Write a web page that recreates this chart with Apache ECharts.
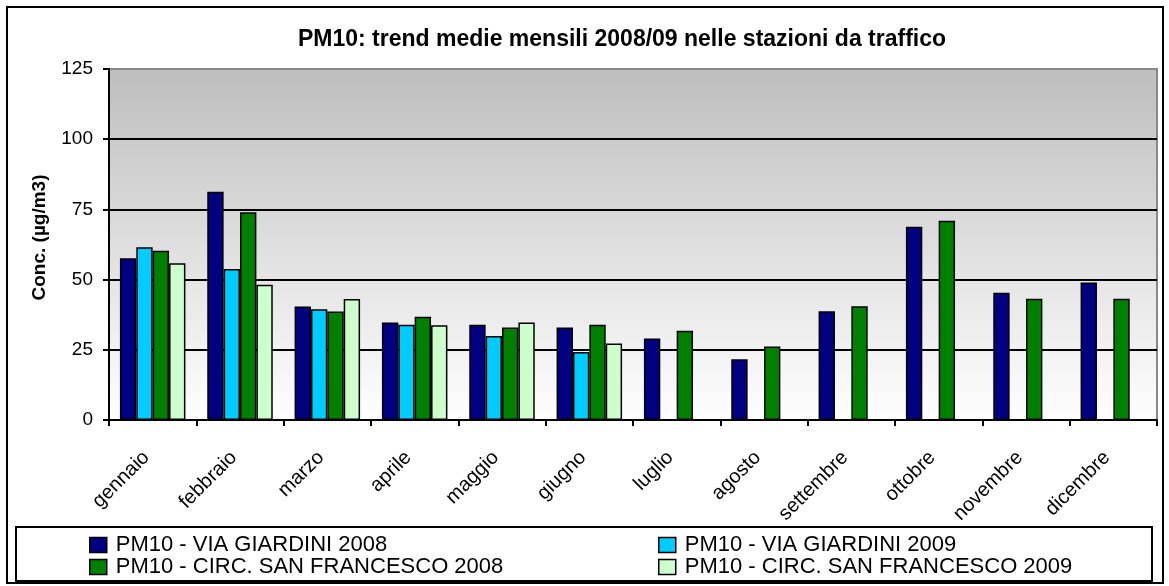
<!DOCTYPE html>
<html>
<head>
<meta charset="utf-8">
<title>PM10 trend medie mensili</title>
<script src="https://cdn.jsdelivr.net/npm/echarts@6/dist/echarts.min.js"></script>
<style>
  html, body { margin: 0; padding: 0; background: #fff; }
  #chart { width: 1169px; height: 586px; }
</style>
</head>
<body>
<div id="chart"></div>
<script>
// mesi
var months = ['gennaio', 'febbraio', 'marzo', 'aprile', 'maggio', 'giugno',
  'luglio', 'agosto', 'settembre', 'ottobre', 'novembre', 'dicembre'];
// medie mensili PM10 (µg/m3)
var viaGiardini2008 = [57.6, 81.3, 40.4, 34.7, 33.9, 32.9, 29.0, 21.6, 38.7, 68.8, 45.3, 49.0];
var viaGiardini2009 = [61.5, 53.8, 39.4, 33.9, 29.9, 24.2, null, null, null, null, null, null];
var circSanFrancesco2008 = [60.3, 74.0, 38.6, 36.8, 32.9, 33.9, 31.8, 26.2, 40.5, 71.0, 43.2, 43.2];
var circSanFrancesco2009 = [55.8, 48.2, 43.1, 33.7, 34.7, 27.2, null, null, null, null, null, null];

var seriesNames = ['PM10 - VIA GIARDINI 2008', 'PM10 - VIA GIARDINI 2009',
  'PM10 - CIRC. SAN FRANCESCO 2008', 'PM10 - CIRC. SAN FRANCESCO 2009'];
var seriesColors = ['#000080', '#00ccff', '#008000', '#ccffcc'];
var yTicks = [0, 25, 50, 75, 100, 125];

var font = 'Liberation Sans, Arial, sans-serif';

function bar(i, data) {
  return {
    name: seriesNames[i],
    type: 'bar',
    data: data,
    barGap: '0%',
    barCategoryGap: '25%',
    itemStyle: { color: seriesColors[i], borderColor: '#000', borderWidth: 1.5 }
  };
}

function legendCol(names, left) {
  return {
    data: names,
    orient: 'vertical',
    left: left,
    top: 534,
    padding: 0,
    itemGap: 0,
    itemWidth: 17,
    itemHeight: 15,
    icon: 'rect',
    itemStyle: { borderColor: '#000', borderWidth: 1.5 },
    textStyle: { fontFamily: font, fontSize: 22, color: '#000', padding: [0, 0, 0, 4] }
  };
}

var chart = echarts.init(document.getElementById('chart'));
chart.setOption({
  animation: false,
  backgroundColor: '#fff',
  title: {
    text: 'PM10: trend medie mensili 2008/09 nelle stazioni da traffico',
    left: 617,
    top: 23,
    textAlign: 'center',
    textStyle: { fontFamily: font, fontSize: 23, fontWeight: 'bold', color: '#000' }
  },
  legend: [
    legendCol([seriesNames[0], seriesNames[2]], 89),
    legendCol([seriesNames[1], seriesNames[3]], 658)
  ],
  grid: {
    left: 109,
    right: 12,
    top: 69,
    bottom: 166,
    show: true,
    borderColor: '#888',
    borderWidth: 2,
    backgroundColor: new echarts.graphic.LinearGradient(0, 0, 0, 1, [
      { offset: 0, color: '#bebebe' },
      { offset: 1, color: '#ffffff' }
    ])
  },
  xAxis: {
    type: 'category',
    data: months,
    axisLine: { lineStyle: { color: '#000', width: 2 } },
    axisTick: { show: true, length: 6, lineStyle: { color: '#000', width: 2 } },
    axisLabel: {
      interval: 0,
      rotate: 45,
      margin: 28,
      padding: [0, 9, 0, 0],
      fontFamily: font,
      fontSize: 20,
      color: '#000'
    }
  },
  yAxis: {
    type: 'value',
    min: yTicks[0],
    max: yTicks[yTicks.length - 1],
    interval: 25,
    name: 'Conc. (µg/m3)',
    nameLocation: 'middle',
    nameGap: 60,
    nameTextStyle: { fontFamily: font, fontSize: 19, fontWeight: 'bold', color: '#000', padding: [0, 0, 0, 14] },
    axisLine: { show: true, lineStyle: { color: '#000', width: 2 } },
    axisTick: { show: true, length: 6, lineStyle: { color: '#000', width: 2 } },
    axisLabel: { margin: 16, fontFamily: font, fontSize: 19, color: '#000' },
    splitLine: {
      show: true,
      lineStyle: { color: ['#000', '#000', '#000', '#000', '#000', '#888'], width: 2 }
    }
  },
  graphic: [{
    type: 'rect',
    shape: { x: 7, y: 7, width: 1156, height: 576 },
    style: { fill: null, stroke: '#000', lineWidth: 2 },
    silent: true
  }, {
    type: 'rect',
    shape: { x: 16, y: 527, width: 1136, height: 54 },
    style: { fill: null, stroke: '#000', lineWidth: 2 },
    silent: true
  }],
  series: [
    bar(0, viaGiardini2008),
    bar(1, viaGiardini2009),
    bar(2, circSanFrancesco2008),
    bar(3, circSanFrancesco2009)
  ]
});
</script>
</body>
</html>
